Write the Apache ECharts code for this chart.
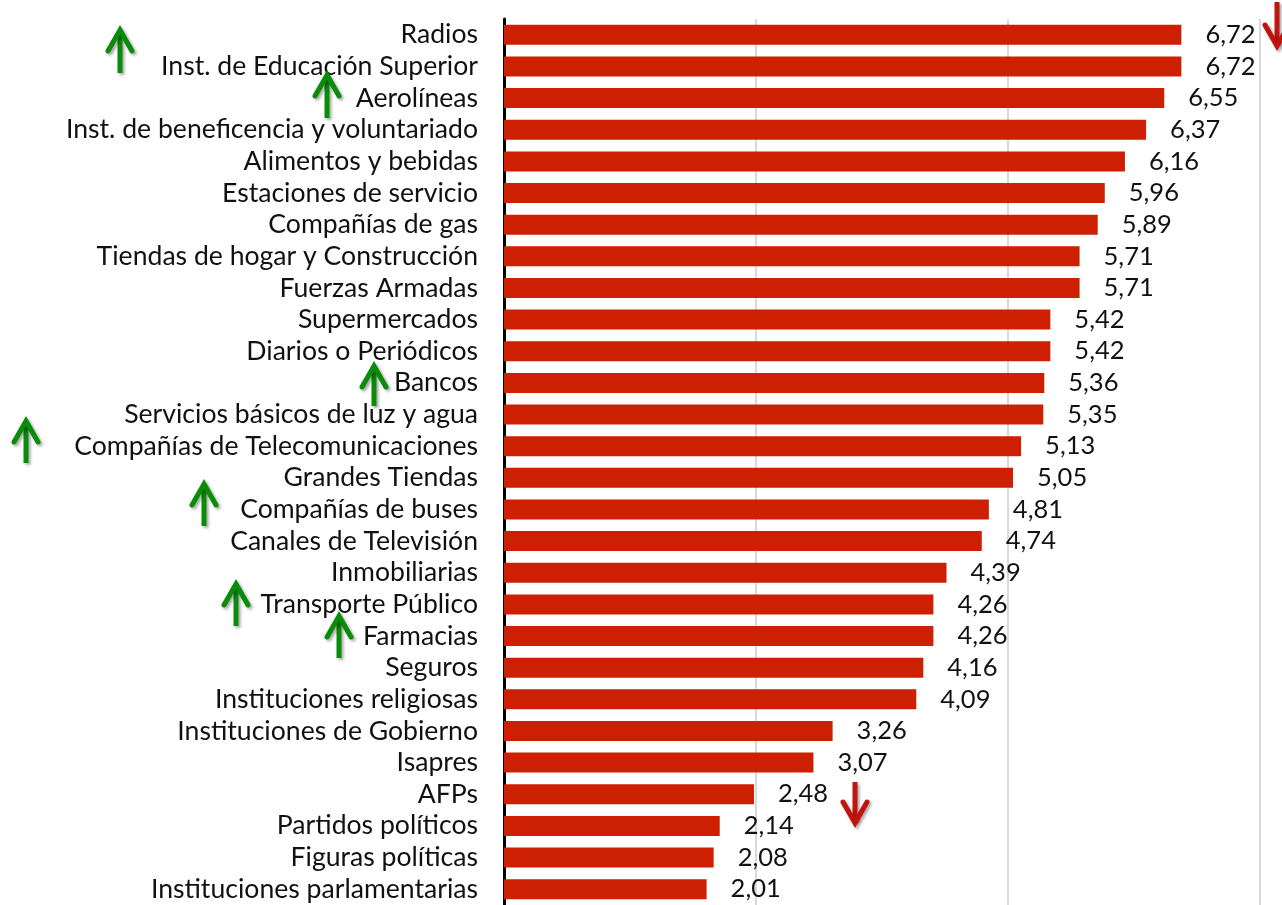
<!DOCTYPE html>
<html>
<head>
<meta charset="utf-8">
<script src="https://cdn.jsdelivr.net/npm/echarts@6/dist/echarts.min.js"></script>
<style>html,body{margin:0;padding:0;background:#fff}#c{width:1282px;height:905px}</style>
</head>
<body>
<div id="c"></div>
<script>
var categories = [
  "Radios","Inst. de Educación Superior","Aerolíneas","Inst. de beneficencia y voluntariado",
  "Alimentos y bebidas","Estaciones de servicio","Compañías de gas","Tiendas de hogar y Construcción",
  "Fuerzas Armadas","Supermercados","Diarios o Periódicos","Bancos","Servicios básicos de luz y agua",
  "Compañías de Telecomunicaciones","Grandes Tiendas","Compañías de buses","Canales de Televisión",
  "Inmobiliarias","Transporte Público","Farmacias","Seguros","Instituciones religiosas",
  "Instituciones de Gobierno","Isapres","AFPs","Partidos políticos","Figuras políticas",
  "Instituciones parlamentarias"
];
var values = [6.72,6.72,6.55,6.37,6.16,5.96,5.89,5.71,5.71,5.42,5.42,5.36,5.35,5.13,5.05,4.81,4.74,4.39,4.26,4.26,4.16,4.09,3.26,3.07,2.48,2.14,2.08,2.01];
var xTicks = [0, 2.5, 5, 7.5];

function arrow(x, y1, y2, color) {
  var dir = y2 > y1 ? 1 : -1;
  var headLen = 21, headW = 12;
  var sh = {shadowBlur: 3, shadowOffsetX: 2, shadowOffsetY: 2, shadowColor: 'rgba(0,0,0,0.35)'};
  return [
    {type: 'line', shape: {x1: x, y1: y1, x2: x, y2: y2 - dir * 2}, style: Object.assign({stroke: color, lineWidth: 5, lineCap: 'butt'}, sh), z: 100},
    {type: 'polyline', shape: {points: [[x - headW, y2 - dir * headLen], [x, y2], [x + headW, y2 - dir * headLen]]}, style: Object.assign({stroke: color, lineWidth: 5, lineJoin: 'miter', lineCap: 'round', fill: null}, sh), z: 100}
  ];
}
var green = '#0a8c0a', red = '#c0140c';
var graphics = [].concat(
  arrow(120, 73, 30, green),
  arrow(327, 118, 75, green),
  arrow(374, 406, 366, green),
  arrow(26, 463, 421, green),
  arrow(204, 526, 484, green),
  arrow(236, 626, 584, green),
  arrow(339, 658, 616, green),
  arrow(855, 782, 823, red),
  arrow(1277, 2, 46, red)
);

var chart = echarts.init(document.getElementById('c'));
chart.setOption({
  animation: false,
  textStyle: {fontFamily: 'Lato'},
  grid: {left: 504, top: 19, width: 756, height: 891, containLabel: false},
  xAxis: {
    type: 'value', min: xTicks[0], max: xTicks[xTicks.length - 1], interval: 2.5,
    axisLabel: {show: false}, axisLine: {show: false}, axisTick: {show: false},
    splitLine: {show: true, lineStyle: {color: '#d9d9d9', width: 2}}
  },
  yAxis: {
    type: 'category', data: categories, inverse: true,
    axisLine: {show: true, lineStyle: {color: '#000', width: 3}},
    axisTick: {show: false},
    axisLabel: {color: '#111', fontSize: 26.6, fontFamily: 'Lato', margin: 26, interval: 0, hideOverlap: false}
  },
  series: [{
    type: 'bar', data: values, barWidth: 20,
    itemStyle: {color: '#cd1f02'},
    label: {
      show: true, position: 'right', distance: 24, color: '#111', fontSize: 25.5, fontFamily: 'Lato',
      formatter: function (p) { return p.value.toFixed(2).replace('.', ','); }
    }
  }],
  graphic: graphics
});
</script>
</body>
</html>
